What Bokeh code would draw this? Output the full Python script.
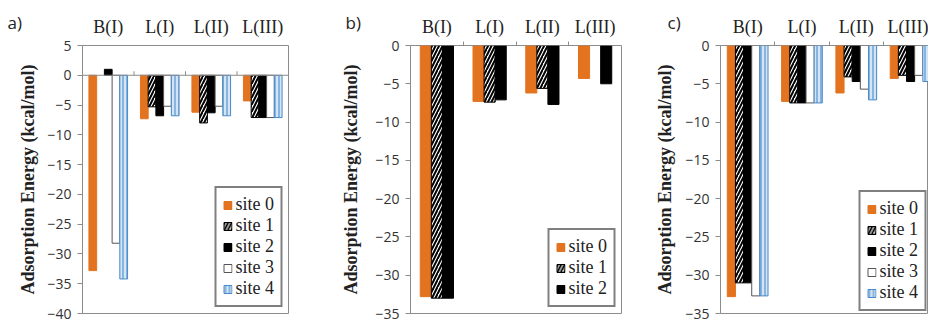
import math
from bokeh.plotting import figure
from bokeh.models import (Range1d, LinearAxis, FixedTicker, SingleIntervalTicker,
                          Legend, LegendItem, Span, Title)
from bokeh.layouts import row
from bokeh.embed import file_html
from bokeh.resources import INLINE

nan = float("nan")

categories = ["B(I)", "L(I)", "L(II)", "L(III)"]
site_names = ["site 0", "site 1", "site 2", "site 3", "site 4"]

# panel a) five sites
a_site0 = [-32.8, -7.3, -6.2, -4.3]
a_site1 = [nan, -5.3, -8.0, -7.1]
a_site2 = [1.0, -6.8, -6.3, -7.1]
a_site3 = [-28.2, -5.2, -5.2, -7.1]
a_site4 = [-34.2, -6.8, -6.8, -7.1]

# panel b) three sites
b_site0 = [-32.8, -7.3, -6.2, -4.3]
b_site1 = [-33.0, -7.4, -5.6, nan]
b_site2 = [-33.0, -7.1, -7.7, -5.0]

# panel c) five sites
c_site0 = [-32.8, -7.3, -6.2, -4.3]
c_site1 = [-31.0, -7.5, -4.1, -3.9]
c_site2 = [-31.0, -7.5, -4.7, -4.7]
c_site3 = [-32.7, -7.5, -5.7, -3.9]
c_site4 = [-32.7, -7.5, -7.1, -4.7]

GRAY = "#8c8c8c"
SERIF = "Liberation Serif"
STYLES = [
    dict(fill_color="#E3731F", line_color="#E3731F"),
    dict(fill_color="white", line_color="black", hatch_pattern="/",
         hatch_color="black", hatch_weight=2, hatch_scale=7),
    dict(fill_color="black", line_color="black"),
    dict(fill_color="white", line_color="#555555"),
    dict(fill_color="#D3E4F4", line_color="#4A8AC8", hatch_pattern="|",
         hatch_color="#6FA6DA", hatch_weight=1.5, hatch_scale=4),
]


def make_panel(tag, series, y_lo, y_hi, x_end, width, height, bl, br, bt, bb,
               bar_w, legend_margin, title_standoff, tag_offset, tag_standoff):
    centers = [i + 0.5 for i in range(len(categories))]
    bounds = [i + 1 for i in range(len(categories) - 1)]
    p = figure(width=width, height=height, x_range=Range1d(0, x_end),
               y_range=Range1d(y_lo, y_hi), x_axis_location=None,
               output_backend="svg", toolbar_location=None,
               min_border_left=bl, min_border_right=br,
               min_border_top=bt, min_border_bottom=bb)
    p.grid.visible = False
    p.outline_line_color = GRAY
    p.background_fill_color = "white"
    p.border_fill_color = "white"

    # zero line
    p.add_layout(Span(location=0, dimension="width", line_color=GRAY, line_width=1))
    if y_hi > 0:
        p.ray(x=bounds, y=[0] * len(bounds), length=4, length_units="screen",
              angle=math.pi / 2, line_color=GRAY, line_width=1)

    n = len(series)
    items = []
    for k, vals in enumerate(series):
        off = (k - (n - 1) / 2) * bar_w
        xs = [c + off for c in centers]
        r = p.vbar(x=xs, top=vals, bottom=0, width=bar_w, **STYLES[k])
        items.append(LegendItem(label=site_names[k], renderers=[r]))

    yax = p.yaxis[0]
    yax.ticker = SingleIntervalTicker(interval=5)
    yax.axis_label = "Adsorption Energy (kcal/mol)"
    yax.axis_label_text_font = SERIF
    yax.axis_label_text_font_style = "bold"
    yax.axis_label_text_font_size = "18px"
    yax.axis_label_text_color = "#222222"
    yax.axis_label_standoff = title_standoff
    yax.major_label_text_font = "Open Sans"
    yax.major_label_text_font_size = "14px"
    yax.major_label_text_color = "#333333"
    yax.major_label_standoff = 6
    yax.major_tick_in = 0
    yax.major_tick_out = 5
    yax.minor_tick_line_color = None
    yax.axis_line_color = GRAY
    yax.major_tick_line_color = GRAY

    # category labels above the frame (boundary ticks when the top edge is the zero line)
    top = LinearAxis(ticker=FixedTicker(ticks=centers, minor_ticks=bounds),
                     major_label_overrides={c: s for c, s in zip(centers, categories)},
                     axis_line_color=None, major_tick_line_color=None,
                     minor_tick_line_color=GRAY if y_hi == 0 else None,
                     minor_tick_out=4, minor_tick_in=0,
                     major_tick_out=0, major_tick_in=0,
                     axis_label_standoff=0,
                     major_label_text_font=SERIF,
                     major_label_text_font_size="18px",
                     major_label_text_color="#222222",
                     major_label_standoff=5)
    p.add_layout(top, "above")

    legend = Legend(items=items, location="bottom_right",
                    border_line_color="black", border_line_width=2,
                    label_text_font=SERIF, label_text_font_size="18px",
                    label_text_color="#222222",
                    glyph_width=10, glyph_height=10, label_height=20,
                    label_standoff=3, spacing=0, padding=6, margin=legend_margin,
                    background_fill_alpha=1)
    p.add_layout(legend)

    p.title = Title(text=tag, align="left", offset=tag_offset, standoff=tag_standoff,
                    text_font="Open Sans", text_font_size="17px",
                    text_font_style="normal", text_color="#222222")
    return p


pa = make_panel("a)", [a_site0, a_site1, a_site2, a_site3, a_site4], -40, 5, 4,
                305, 322, 82, 17, 45, 9, 0.15, 6, 6, -75, -41)
pb = make_panel("b)", [b_site0, b_site1, b_site2], -35, 0, 4,
                321, 322, 105, 5, 45, 9, 0.21, 6, 11, -65, -40)
pc = make_panel("c)", [c_site0, c_site1, c_site2, c_site3, c_site4], -35, 0, 3.83,
                302, 322, 94, 0, 45, 9, 0.15, 2, 7, -53, -41)

layout = row(pa, pb, pc)
open("out.html", "w").write(file_html(layout, INLINE))
